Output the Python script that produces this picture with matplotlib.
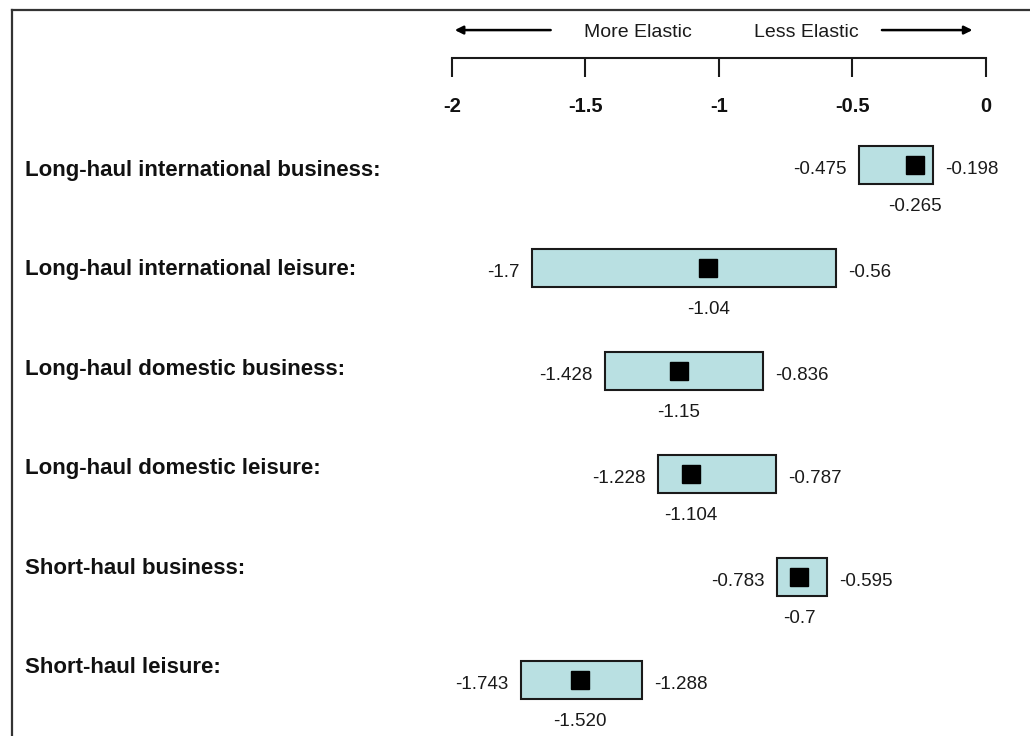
import matplotlib
matplotlib.use("Agg")
import matplotlib.pyplot as plt

categories = [
    "Long-haul international business:",
    "Long-haul international leisure:",
    "Long-haul domestic business:",
    "Long-haul domestic leisure:",
    "Short-haul business:",
    "Short-haul leisure:",
]
low_values = [-0.475, -1.7, -1.428, -1.228, -0.783, -1.743]
high_values = [-0.198, -0.56, -0.836, -0.787, -0.595, -1.288]
median_values = [-0.265, -1.04, -1.15, -1.104, -0.7, -1.520]
low_labels = ["-0.475", "-1.7", "-1.428", "-1.228", "-0.783", "-1.743"]
high_labels = ["-0.198", "-0.56", "-0.836", "-0.787", "-0.595", "-1.288"]
median_labels = ["-0.265", "-1.04", "-1.15", "-1.104", "-0.7", "-1.520"]
tick_values = [-2, -1.5, -1, -0.5, 0]
tick_labels = ["-2", "-1.5", "-1", "-0.5", "0"]

plt.rcParams['font.family'] = ['Liberation Sans', 'DejaVu Sans']

fig = plt.figure(figsize=(10.30, 7.36), dpi=100)
ax = fig.add_axes([0, 0, 1, 1])
ax.set_xlim(-3.693, 0.165)
ax.set_ylim(5.544, -1.602)
ax.axis('off')

box_color = '#b9e0e2'
box_h = 0.37
pad = 0.045  # gap between box and labels (data units)
num_fs = 13.5

for i, cat in enumerate(categories):
    lo, hi, med = low_values[i], high_values[i], median_values[i]
    ax.barh(i, hi - lo, left=lo, height=box_h, color=box_color,
            edgecolor='#1a1a1a', linewidth=1.5, zorder=2)
    ax.plot([med], [i], marker='s', markersize=13, color='black',
            linestyle='none', zorder=3)
    ax.text(lo - pad, i + 0.04, low_labels[i], ha='right', va='center',
            fontsize=num_fs, color='#1a1a1a')
    ax.text(hi + pad, i + 0.04, high_labels[i], ha='left', va='center',
            fontsize=num_fs, color='#1a1a1a')
    ax.text(med, i + 0.40, median_labels[i], ha='center', va='center',
            fontsize=num_fs, color='#1a1a1a')
    ax.text(-3.60, i * 0.966 + 0.05, cat, ha='left', va='center', fontsize=16,
            fontweight='bold', color='#111111')

# top scale
axis_y = -1.04
ax.plot([tick_values[0], tick_values[-1]], [axis_y, axis_y], color='#1a1a1a', lw=1.5)
ax.vlines(tick_values, axis_y, axis_y + 0.19, color='#1a1a1a', lw=1.5)
for v, lab in zip(tick_values, tick_labels):
    ax.text(v, axis_y + 0.47, lab, ha='center', va='center', fontsize=14.5,
            fontweight='bold', color='#111111')

arrow_y = -1.31
ax.annotate('', xy=(-2.0, arrow_y), xytext=(-1.62, arrow_y),
            arrowprops=dict(arrowstyle='-|>', color='black', lw=1.8,
                            mutation_scale=12))
ax.annotate('', xy=(-0.04, arrow_y), xytext=(-0.40, arrow_y),
            arrowprops=dict(arrowstyle='-|>', color='black', lw=1.8,
                            mutation_scale=12))
ax.text(-1.305, arrow_y + 0.02, "More Elastic", ha='center', va='center',
        fontsize=14, color='#1a1a1a')
ax.text(-0.673, arrow_y + 0.02, "Less Elastic", ha='center', va='center',
        fontsize=14, color='#1a1a1a')

# frame lines (left and top)
fig.add_artist(plt.Line2D([12/1030, 12/1030], [0, 1 - 10/736],
                          transform=fig.transFigure, color='#333333', lw=1.6))
fig.add_artist(plt.Line2D([12/1030, 1], [1 - 10/736, 1 - 10/736],
                          transform=fig.transFigure, color='#333333', lw=1.6))

fig.savefig('out.png', dpi=100)
